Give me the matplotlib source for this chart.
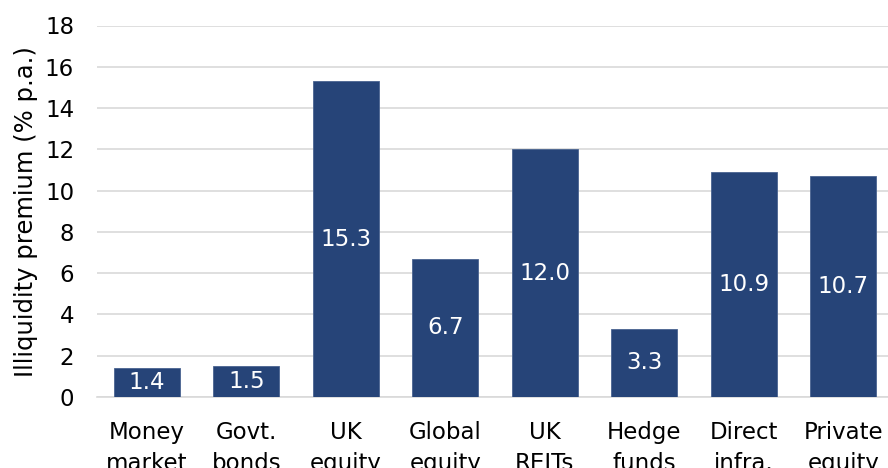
import matplotlib.pyplot as plt

# --------------------
# Data
# --------------------
categories = ["Money\nmarket", "Govt.\nbonds", "UK\nequity", "Global\nequity",
              "UK\nREITs", "Hedge\nfunds", "Direct\ninfra.", "Private\nequity"]
values = [1.4, 1.5, 15.3, 6.7, 12.0, 3.3, 10.9, 10.7]
y_ticks = [0, 2, 4, 6, 8, 10, 12, 14, 16, 18]

bar_color = "#264478"
grid_color = "#D9D9D9"
text_color = "#000000"

plt.rcParams["font.family"] = ["DejaVu Sans"]

fig = plt.figure(figsize=(8.88, 4.68), dpi=100)
# plot area runs past the right edge, like the cropped original
ax = fig.add_axes([97 / 888, 71 / 468, 796 / 888, 371.5 / 468])

x = range(len(categories))
ax.bar(x, values, width=0.66, color=bar_color,
       edgecolor="#4A6490", linewidth=0.6, zorder=3)

# value labels in the middle of each bar
for xi, v in zip(x, values):
    ax.text(xi, v / 2, f"{v:.1f}", ha="center", va="center",
            color="white", fontsize=16.5, zorder=4)

ax.set_xlim(-0.5, len(categories) - 0.5)
ax.set_ylim(0, 18)
ax.set_yticks(y_ticks)
ax.set_xticks(list(x))
ax.set_xticklabels(categories, fontsize=16.5, color=text_color, linespacing=1.44)
ax.tick_params(axis="y", labelsize=16.5, length=0, pad=16.5, colors=text_color)
ax.tick_params(axis="x", length=0, pad=17)

ax.set_ylabel("Illiquidity premium (% p.a.)", fontsize=17.5, color=text_color)
ax.yaxis.set_label_coords(-0.074, 0.5)

ax.yaxis.grid(True, color=grid_color, linewidth=1.2, zorder=0)
ax.set_axisbelow(True)
for side in ["top", "right", "left"]:
    ax.spines[side].set_visible(False)
ax.spines["bottom"].set_color(grid_color)
ax.spines["bottom"].set_linewidth(1.2)

plt.savefig("out.png", dpi=100)
plt.close()
